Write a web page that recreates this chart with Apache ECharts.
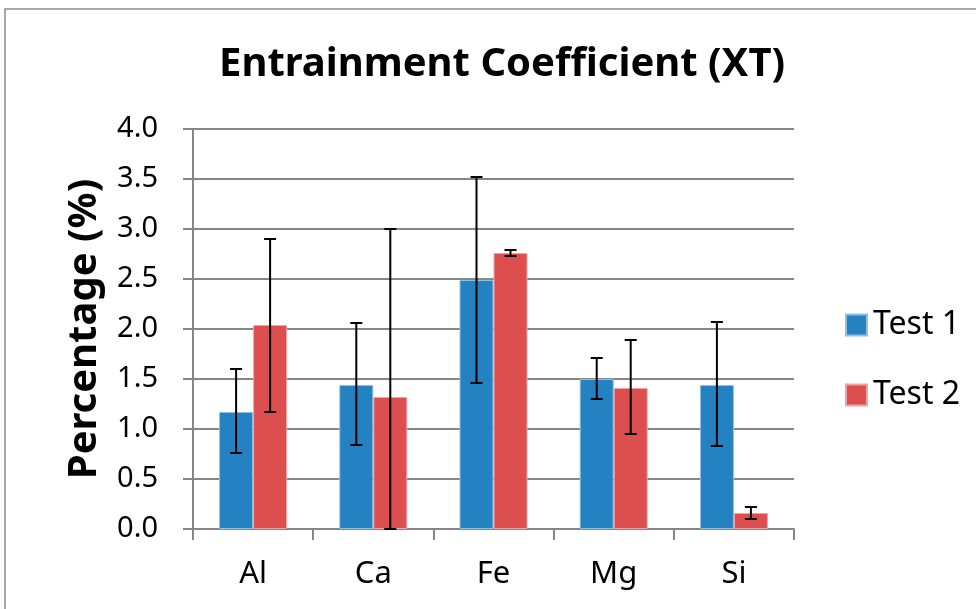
<!DOCTYPE html>
<html>
<head>
<meta charset="utf-8">
<script src="https://cdn.jsdelivr.net/npm/echarts@6/dist/echarts.min.js"></script>
<style>
  html, body { margin: 0; padding: 0; background: #fff; }
  #chart { width: 976px; height: 609px; }
</style>
</head>
<body>
<div id="chart"></div>
<script>
var categories = ['Al', 'Ca', 'Fe', 'Mg', 'Si'];
var test1 = [1.17, 1.44, 2.49, 1.50, 1.44];
var test2 = [2.04, 1.32, 2.76, 1.41, 0.16];
var test1Low = [0.76, 0.84, 1.46, 1.30, 0.83];
var test1High = [1.60, 2.06, 3.52, 1.71, 2.07];
var test2Low = [1.17, 0.00, 2.73, 0.95, 0.10];
var test2High = [2.90, 3.00, 2.79, 1.89, 0.22];
var yTicks = ['0.0', '0.5', '1.0', '1.5', '2.0', '2.5', '3.0', '3.5', '4.0'];

var font = '"Noto Sans", "Open Sans", sans-serif';
var barW = 34;

function errRows(low, high) {
    return categories.map(function (c, i) { return [i, low[i], high[i]]; });
}

// error bar drawn at the centre of one bar of the pair
function errRender(offset) {
    return function (params, api) {
        var top = api.coord([api.value(0), api.value(2)]);
        var bot = api.coord([api.value(0), api.value(1)]);
        var x = top[0] + offset;
        var st = { stroke: '#000', lineWidth: 2 };
        return {
            type: 'group',
            children: [
                { type: 'line', shape: { x1: x, y1: top[1], x2: x, y2: bot[1] }, style: st },
                { type: 'line', shape: { x1: x - 6, y1: top[1], x2: x + 6, y2: top[1] }, style: st },
                { type: 'line', shape: { x1: x - 6, y1: bot[1], x2: x + 6, y2: bot[1] }, style: st }
            ]
        };
    };
}

var chart = echarts.init(document.getElementById('chart'));
var option = {
    backgroundColor: '#fff',
    animation: false,
    textStyle: { fontFamily: font },
    graphic: [{
        type: 'rect',
        shape: { x: 5, y: 9, width: 1000, height: 700 },
        style: { fill: 'none', stroke: '#8a8a8a', lineWidth: 1.5 },
        silent: true
    }],
    title: {
        text: 'Entrainment Coefficient (XT)',
        left: 497,
        textAlign: 'center',
        top: 40,
        textStyle: { fontFamily: font, fontWeight: 'bold', fontSize: 40, color: '#000' }
    },
    legend: {
        data: ['Test 1', 'Test 2'],
        orient: 'vertical',
        left: 840,
        top: 304,
        itemWidth: 21,
        itemHeight: 21,
        itemGap: 38,
        icon: 'rect',
        textStyle: { fontFamily: font, fontSize: 32, color: '#000', padding: [0, 0, 0, 1] }
    },
    grid: { left: 193, right: 182, top: 129, bottom: 80 },
    xAxis: {
        type: 'category',
        data: categories,
        axisLine: { lineStyle: { color: '#868686', width: 2 } },
        axisTick: { show: true, length: 11, lineStyle: { color: '#868686', width: 2 } },
        axisLabel: { fontFamily: font, fontSize: 31, color: '#000', margin: 30 }
    },
    yAxis: {
        type: 'value',
        min: 0,
        max: 4,
        interval: 0.5,
        name: 'Percentage (%)',
        nameLocation: 'middle',
        nameGap: 88,
        nameTextStyle: { fontFamily: font, fontWeight: 'bold', fontSize: 40, color: '#000' },
        axisLine: { show: true, lineStyle: { color: '#868686', width: 2 } },
        axisTick: { show: true, length: 10, lineStyle: { color: '#868686', width: 2 } },
        axisLabel: {
            fontFamily: font, fontSize: 29, color: '#000', margin: 35,
            formatter: function (v) { return yTicks[Math.round(v * 2)]; }
        },
        splitLine: { lineStyle: { color: '#868686', width: 2 } }
    },
    series: [{
        name: 'Test 1',
        type: 'bar',
        barWidth: barW,
        barGap: '0%',
        itemStyle: { color: '#2481c2', borderColor: '#8fc0e4', borderWidth: 1 },
        data: test1
    }, {
        name: 'Test 2',
        type: 'bar',
        barWidth: barW,
        barGap: '0%',
        itemStyle: { color: '#dd4f4f', borderColor: '#f0a3a3', borderWidth: 1 },
        data: test2
    }, {
        name: 'err1',
        type: 'custom',
        z: 10,
        renderItem: errRender(-barW / 2),
        encode: { x: 0, y: [1, 2] },
        data: errRows(test1Low, test1High)
    }, {
        name: 'err2',
        type: 'custom',
        z: 10,
        renderItem: errRender(barW / 2),
        encode: { x: 0, y: [1, 2] },
        data: errRows(test2Low, test2High)
    }]
};
chart.setOption(option);
</script>
</body>
</html>
